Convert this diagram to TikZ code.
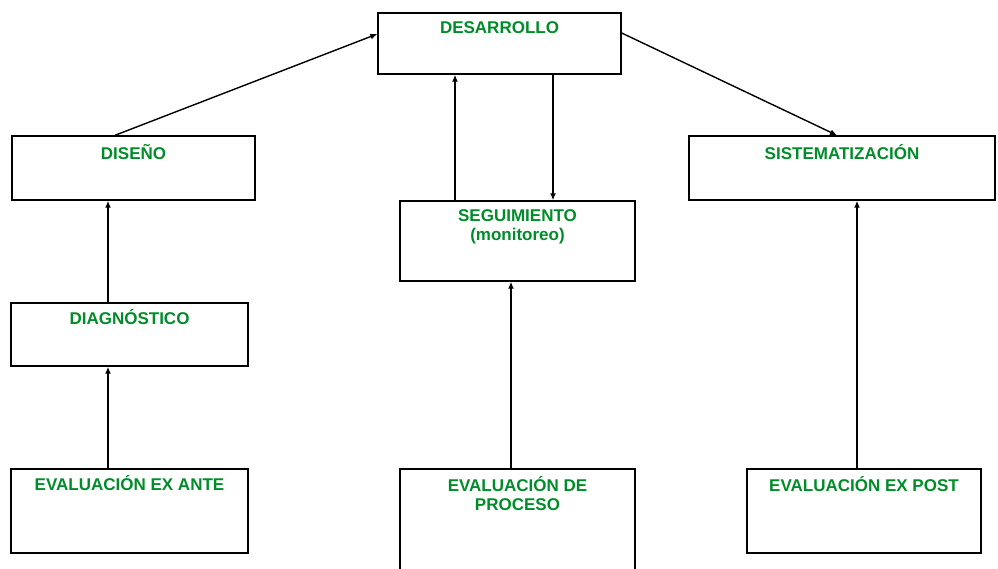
\documentclass[tikz,border=0pt]{standalone}
\usepackage{fontspec}
\setmainfont{Liberation Sans}
\usetikzlibrary{arrows.meta,calc}
\definecolor{txtgreen}{RGB}{0,140,40}
\tikzset{every picture/.style={line width=1.4pt}}
\tikzset{
	box/.style={draw, rectangle, inner sep=0pt},
	txt/.style={text=txtgreen, font=\fontsize{17}{19}\selectfont\bfseries, inner sep=0pt, align=center, anchor=north},
	arr/.style={-{Latex[length=7pt,width=6pt]}}
}

\begin{document}
\begin{tikzpicture}[x=1pt,y=1pt,yscale=-1,xscale=1]
	\useasboundingbox (0,0) rectangle (998,568);

	% Boxes
	\node[box, minimum width=243pt, minimum height=61pt, label={[txt, yshift=-3pt]90:{\rule{0pt}{17pt}DESARROLLO}}] (des) at (499.5,43.5) {};
	\node[box, minimum width=243pt, minimum height=64pt, label={[txt, yshift=-6pt]90:{\rule{0pt}{17pt}DISEÑO}}] (dis) at (133.5,168) {};
	\node[box, minimum width=306pt, minimum height=64pt, label={[txt, yshift=-6pt]90:{\rule{0pt}{17pt}SISTEMATIZACIÓN}}] (sis) at (842,168) {};
	\node[box, minimum width=235pt, minimum height=80pt, label={[txt, yshift=-3pt]90:{\rule{0pt}{17pt}SEGUIMIENTO\\(monitoreo)}}] (seg) at (517.5,241) {};
	\node[box, minimum width=237pt, minimum height=63pt, label={[txt, yshift=-4pt]90:{\rule{0pt}{17pt}DIAGNÓSTICO}}] (dia) at (129.5,334.5) {};
	\node[box, minimum width=237pt, minimum height=84pt, label={[txt, yshift=-4pt]90:{\rule{0pt}{17pt}EVALUACIÓN EX ANTE}}] (ante) at (129.5,511) {};
	\node[box, minimum width=235pt, minimum height=112pt, label={[txt, yshift=-5pt]90:{\rule{0pt}{17pt}EVALUACIÓN DE\\PROCESO}}] (proc) at (517.5,525) {};
	\node[box, minimum width=234pt, minimum height=84pt, label={[txt, yshift=-5pt]90:{\rule{0pt}{17pt}EVALUACIÓN EX POST}}] (post) at (864,511) {};

	% Diagonal arrows
	\draw[arr] ($(dis.north)+(-18.5,0)$) -- ($(des.west)+(0,-9.5)$);
	\draw[arr] ($(des.east)+(0,-10.5)$) -- ($(sis.north)+(-5,0)$);

	% Vertical arrows
	\coordinate (up1) at ($(seg.north)+(-62.5,0)$);
	\draw[arr] (up1) -- (up1 |- des.south);
	\coordinate (dn1) at ($(des.south)+(53.5,0)$);
	\draw[arr] (dn1) -- (dn1 |- seg.north);
	\coordinate (up2) at ($(dia.north)+(-21.5,0)$);
	\draw[arr] (up2) -- (up2 |- dis.south);
	\coordinate (up3) at ($(ante.north)+(-21.5,0)$);
	\draw[arr] (up3) -- (up3 |- dia.south);
	\coordinate (up4) at ($(proc.north)+(-6.5,0)$);
	\draw[arr] (up4) -- (up4 |- seg.south);
	\coordinate (up5) at ($(post.north)+(-7,0)$);
	\draw[arr] (up5) -- (up5 |- sis.south);

\end{tikzpicture}
\end{document}
